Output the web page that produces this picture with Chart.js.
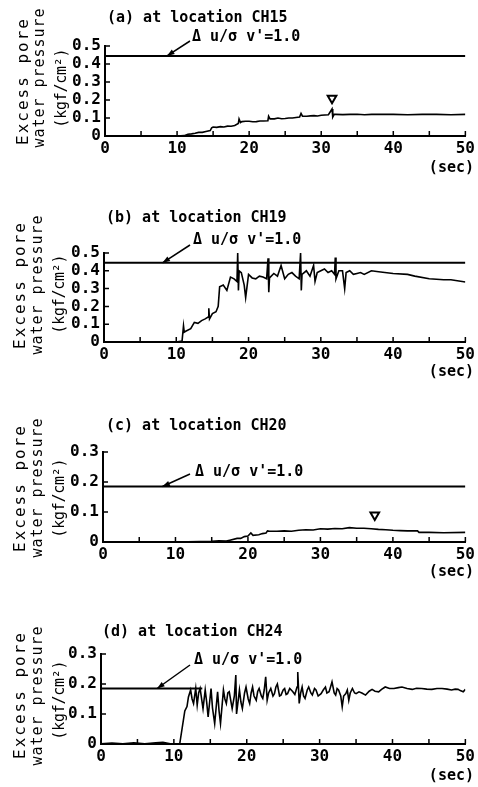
<!DOCTYPE html>
<html>
<head>
<meta charset="utf-8">
<script src="https://cdn.jsdelivr.net/npm/chart.js@4.4.1/dist/chart.umd.min.js"></script>
<style>
  body { margin: 0; background: #fff; }
  #wrap { position: relative; width: 478px; height: 787px; }
  canvas { position: absolute; left: 0; }
</style>
</head>
<body>
<div id="wrap">
  <canvas id="chartA" width="478" height="190" style="top:0px"></canvas>
  <canvas id="chartB" width="478" height="200" style="top:190px"></canvas>
  <canvas id="chartC" width="478" height="200" style="top:390px"></canvas>
  <canvas id="chartD" width="478" height="197" style="top:590px"></canvas>
</div>
<script>
// Excess pore water pressure records, [time (sec), pressure (kgf/cm2)]

const xTicks = [0, 10, 20, 30, 40, 50];
const xMinorTicks = [5, 10, 15, 20, 25, 30, 35, 40, 45, 50];
const yTicksHigh = [0, 0.1, 0.2, 0.3, 0.4, 0.5];
const yTicksLow = [0, 0.1, 0.2, 0.3];

const titles = ['(a) at location CH15', '(b) at location CH19', '(c) at location CH20', '(d) at location CH24'];
const refLabel = "\u0394 u/\u03c3 v'=1.0";
const yTitleLines = ['Excess pore', 'water pressure', '(kgf/cm\u00b2)'];

// Δu/σv' = 1.0 levels
const refA = [[0, 0.445], [50, 0.445]];
const refB = [[0, 0.445], [50, 0.445]];
const refC = [[0, 0.185], [50, 0.185]];
const refD = [[0, 0.185], [13.9, 0.185]];

// peak markers
const markA = [[31.5, 0.21]];
const markC = [[37.5, 0.09]];

const seriesA = [
  [0, 0], [5, 0], [10, 0], [11, 0.002], [11.5, 0.01], [12, 0.012], [12.5, 0.015], [13, 0.02],
  [13.5, 0.02], [14, 0.025], [14.6, 0.03], [14.8, 0.045], [15, 0.05], [15.5, 0.048], [16, 0.052],
  [16.5, 0.05], [17, 0.055], [17.5, 0.054], [18, 0.058], [18.5, 0.07], [18.6, 0.095], [18.8, 0.075],
  [19, 0.08], [19.5, 0.082], [20, 0.082], [20.5, 0.079], [21, 0.08], [21.5, 0.083], [22, 0.083],
  [22.6, 0.085], [22.7, 0.11], [22.9, 0.095], [23.5, 0.095], [24, 0.1], [24.5, 0.096], [25, 0.097],
  [25.5, 0.1], [26, 0.1], [26.5, 0.103], [27, 0.105], [27.2, 0.125], [27.4, 0.11], [28, 0.11],
  [28.5, 0.112], [29, 0.113], [29.5, 0.111], [30, 0.115], [31, 0.118], [31.5, 0.15], [31.6, 0.105],
  [31.8, 0.12], [32, 0.12], [33, 0.119], [34, 0.12], [35, 0.121], [36, 0.118], [37, 0.12],
  [38, 0.12], [39, 0.121], [40, 0.12], [42, 0.118], [44, 0.12], [46, 0.12], [48, 0.118], [50, 0.12]
];

const seriesB = [
  [0, 0], [5, 0], [10, 0], [10.8, 0.005], [11, 0.09], [11.1, 0.055], [11.3, 0.06], [12, 0.075],
  [12.5, 0.11], [13, 0.105], [13.5, 0.12], [14, 0.13], [14.4, 0.14], [14.5, 0.19], [14.6, 0.13],
  [15, 0.16], [15.5, 0.17], [15.8, 0.2], [16, 0.31], [16.5, 0.32], [17, 0.29], [17.5, 0.365],
  [18, 0.355], [18.4, 0.34], [18.5, 0.5], [18.6, 0.29], [18.7, 0.4], [19, 0.39], [19.4, 0.32],
  [19.6, 0.25], [20, 0.38], [20.5, 0.36], [21, 0.355], [21.5, 0.37], [22, 0.365], [22.5, 0.355],
  [22.7, 0.47], [22.8, 0.28], [22.9, 0.36], [23.5, 0.385], [24, 0.37], [24.5, 0.43], [25, 0.355],
  [25.5, 0.38], [26, 0.39], [26.5, 0.37], [27, 0.355], [27.2, 0.5], [27.3, 0.29], [27.4, 0.38],
  [28, 0.4], [28.5, 0.37], [29, 0.43], [29.2, 0.34], [29.5, 0.39], [30, 0.4], [30.5, 0.41],
  [31, 0.39], [31.5, 0.4], [31.9, 0.38], [32, 0.475], [32.1, 0.355], [32.5, 0.4], [33, 0.4],
  [33.3, 0.3], [33.5, 0.39], [34, 0.4], [34.5, 0.38], [35, 0.385], [35.5, 0.39], [36, 0.38],
  [37, 0.4], [38, 0.395], [40, 0.385], [42, 0.38], [43, 0.37], [45, 0.355], [47, 0.35],
  [48, 0.35], [50, 0.337]
];

const seriesC = [
  [0, 0], [5, 0], [10, 0], [15, 0.002], [16, 0.004], [17, 0.003], [17.5, 0.006], [18.5, 0.012],
  [19, 0.012], [19.5, 0.018], [20, 0.02], [20.4, 0.03], [20.7, 0.022], [21.5, 0.024], [22, 0.028],
  [22.5, 0.03], [22.7, 0.037], [23, 0.036], [24, 0.036], [25, 0.037], [26, 0.036], [27, 0.039],
  [28, 0.041], [29, 0.04], [30, 0.044], [31, 0.043], [32, 0.045], [33, 0.044], [34, 0.048],
  [35, 0.046], [36, 0.046], [37, 0.044], [38, 0.042], [39, 0.041], [40, 0.039], [41, 0.038],
  [42, 0.037], [43.4, 0.037], [43.6, 0.032], [45, 0.032], [47, 0.031], [50, 0.032]
];

const seriesD = [
  [0, 0.001], [1.5, 0.003], [3, 0.001], [4.5, 0.004], [6, 0.001], [7.5, 0.004], [8.5, 0.006],
  [9.5, 0.001], [10.8, 0], [11.5, 0.11], [11.8, 0.125], [12, 0.157], [12.3, 0.18], [12.5, 0.15],
  [12.7, 0.135], [13, 0.185], [13.2, 0.13], [13.4, 0.17], [13.6, 0.185], [14, 0.118], [14.3, 0.18],
  [14.5, 0.14], [14.7, 0.09], [15.1, 0.185], [15.3, 0.12], [15.6, 0.068], [16, 0.174], [16.2, 0.11],
  [16.4, 0.068], [16.8, 0.18], [17, 0.15], [17.2, 0.135], [17.4, 0.17], [17.6, 0.174], [18, 0.118],
  [18.3, 0.16], [18.5, 0.23], [18.6, 0.1], [19, 0.18], [19.2, 0.14], [19.4, 0.118], [19.7, 0.17],
  [19.9, 0.19], [20.2, 0.15], [20.4, 0.135], [20.6, 0.17], [20.8, 0.19], [21, 0.16], [21.3, 0.146],
  [21.5, 0.175], [21.7, 0.185], [22, 0.16], [22.2, 0.152], [22.4, 0.18], [22.6, 0.224], [22.8, 0.146],
  [23, 0.17], [23.3, 0.185], [23.6, 0.16], [23.8, 0.168], [24, 0.19], [24.2, 0.2], [24.5, 0.16],
  [24.7, 0.163], [25, 0.18], [25.2, 0.185], [25.4, 0.165], [25.6, 0.168], [25.9, 0.185],
  [26.3, 0.175], [26.6, 0.165], [26.9, 0.19], [27, 0.24], [27.2, 0.135], [27.4, 0.17], [27.6, 0.19],
  [27.8, 0.16], [28, 0.152], [28.3, 0.18], [28.5, 0.19], [28.8, 0.17], [29, 0.163], [29.3, 0.185],
  [29.5, 0.18], [29.8, 0.16], [30.2, 0.168], [30.5, 0.18], [30.8, 0.19], [31, 0.17], [31.3, 0.174],
  [31.5, 0.19], [31.7, 0.207], [32, 0.17], [32.2, 0.163], [32.4, 0.185], [32.6, 0.18], [32.9, 0.16],
  [33.1, 0.124], [33.3, 0.16], [33.6, 0.168], [33.8, 0.18], [34, 0.146], [34.2, 0.17], [34.5, 0.185],
  [34.8, 0.17], [35, 0.168], [35.4, 0.174], [35.8, 0.17], [36.3, 0.163], [36.8, 0.176], [37.2, 0.182],
  [37.6, 0.176], [38.1, 0.174], [38.5, 0.182], [39, 0.19], [39.6, 0.185], [40.2, 0.185],
  [40.8, 0.188], [41.3, 0.19], [42, 0.185], [42.7, 0.182], [43.3, 0.186], [44, 0.185], [44.7, 0.183],
  [45.4, 0.182], [46.1, 0.185], [46.8, 0.185], [47.5, 0.183], [48.1, 0.18], [48.6, 0.183], [49, 0.182],
  [49.3, 0.178], [49.7, 0.174], [50, 0.182]
];

const FONT = "'DejaVu Sans Mono', monospace";
Chart.defaults.font.family = FONT;
Chart.defaults.font.weight = 'bold';
Chart.defaults.color = '#000';

// draws title, axis label, inward ticks, Δu/σv' arrow and (sec)
const decorPlugin = {
  id: 'decor',
  afterDraw(chart, args, o) {
    const { ctx, chartArea: a, scales: { x, y } } = chart;
    ctx.save();
    ctx.strokeStyle = '#000';
    ctx.fillStyle = '#000';
    ctx.lineWidth = 1.5;

    // inward ticks
    ctx.beginPath();
    xMinorTicks.forEach(v => {
      const px = x.getPixelForValue(v);
      ctx.moveTo(px, a.bottom);
      ctx.lineTo(px, a.bottom - 5);
    });
    o.yTicks.forEach(v => {
      const py = y.getPixelForValue(v);
      ctx.moveTo(a.left, py);
      ctx.lineTo(a.left + 5, py);
    });
    ctx.stroke();

    ctx.textBaseline = 'middle';
    ctx.font = 'bold 15px ' + FONT;
    ctx.textAlign = 'left';
    ctx.fillText(o.title, o.titleX, o.titleY);
    ctx.fillText(refLabel, o.refX, o.refY);
    ctx.textAlign = 'right';
    ctx.fillText('(sec)', 474, o.secY);

    // arrow to the reference line
    const tx = x.getPixelForValue(o.tipT);
    const ty = y.getPixelForValue(o.refValue);
    const [fx, fy] = o.arrowFrom;
    ctx.lineWidth = 1.5;
    ctx.beginPath();
    ctx.moveTo(fx, fy);
    ctx.lineTo(tx, ty);
    ctx.stroke();
    const ang = Math.atan2(ty - fy, tx - fx);
    ctx.beginPath();
    ctx.moveTo(tx, ty);
    ctx.lineTo(tx - 8 * Math.cos(ang - 0.35), ty - 8 * Math.sin(ang - 0.35));
    ctx.lineTo(tx - 8 * Math.cos(ang + 0.35), ty - 8 * Math.sin(ang + 0.35));
    ctx.closePath();
    ctx.fill();

    // rotated y title, fixed advance per char
    ctx.textAlign = 'center';
    yTitleLines.forEach((line, i) => {
      const len = o.yTitleLen[i];
      const step = len / line.length;
      ctx.save();
      ctx.translate(o.yTitleX[i], o.yTitleY[i]);
      ctx.rotate(-Math.PI / 2);
      ctx.font = (i === 0 ? '16px ' : '15px ') + FONT;
      for (let k = 0; k < line.length; k++) {
        ctx.fillText(line[k], -len / 2 + step * (k + 0.5), 0);
      }
      ctx.restore();
    });
    ctx.restore();
  }
};

function toPoints(arr) {
  return arr.map(([t, p]) => ({ x: t, y: p }));
}

function makePanel(id, series, ref, marks, yTicks, box, deco) {
  const canvas = document.getElementById(id);
  const datasets = [
    { data: toPoints(series), borderColor: '#000', borderWidth: 1.6, pointRadius: 0, tension: 0 },
    { data: toPoints(ref), borderColor: '#000', borderWidth: 2, pointRadius: 0 }
  ];
  if (marks.length) {
    datasets.push({
      data: toPoints(marks), showLine: false, pointStyle: 'triangle', rotation: 180,
      pointRadius: 5, borderWidth: 2, borderColor: '#000', backgroundColor: '#fff'
    });
  }
  return new Chart(canvas, {
    type: 'line',
    data: { datasets: datasets },
    options: {
      responsive: false,
      animation: false,
      devicePixelRatio: 1,
      layout: { padding: { left: 0, top: box.top, right: 478 - box.right, bottom: 0 } },
      plugins: {
        legend: { display: false },
        tooltip: { enabled: false },
        decor: Object.assign({ yTicks: yTicks }, deco)
      },
      scales: {
        x: {
          type: 'linear', min: 0, max: 50,
          afterBuildTicks: s => { s.ticks = xTicks.map(v => ({ value: v })); },
          afterFit: s => { s.height = canvas.height - box.bottom; },
          ticks: { font: { size: 16 }, padding: 3, maxRotation: 0, autoSkip: false },
          grid: { display: false, drawTicks: false },
          border: { display: true, color: '#000', width: 2 }
        },
        y: {
          type: 'linear', min: 0, max: yTicks[yTicks.length - 1],
          afterBuildTicks: s => { s.ticks = yTicks.map(v => ({ value: v })); },
          afterFit: s => { s.width = box.left; },
          ticks: {
            font: { size: 16 }, padding: 4, autoSkip: false,
            callback: v => (v === 0 ? '0' : v.toFixed(1))
          },
          grid: { display: false, drawTicks: false },
          border: { display: true, color: '#000', width: 2 }
        }
      }
    },
    plugins: [decorPlugin]
  });
}

makePanel('chartA', seriesA, refA, markA, yTicksHigh,
  { left: 105, right: 469, top: 46, bottom: 136 },
  { title: titles[0], titleX: 107, titleY: 18, refX: 192, refY: 37, secY: 168,
    arrowFrom: [190, 41], tipT: 8.6, refValue: 0.445,
    yTitleX: [24, 40, 62], yTitleY: [82, 78, 88], yTitleLen: [128, 140, 79] });

makePanel('chartB', seriesB, refB, [], yTicksHigh,
  { left: 104, right: 468, top: 63, bottom: 152 },
  { title: titles[1], titleX: 106, titleY: 28, refX: 193, refY: 50, secY: 182,
    arrowFrom: [190, 55], tipT: 8.1, refValue: 0.445,
    yTitleX: [21, 38, 60], yTitleY: [96, 95, 104], yTitleLen: [128, 140, 79] });

makePanel('chartC', seriesC, refC, markC, yTicksLow,
  { left: 103, right: 467, top: 62, bottom: 152 },
  { title: titles[2], titleX: 106, titleY: 36, refX: 195, refY: 82, secY: 182,
    arrowFrom: [190, 84], tipT: 8.2, refValue: 0.185,
    yTitleX: [21, 38, 60], yTitleY: [99, 98, 108], yTitleLen: [128, 140, 79] });

makePanel('chartD', seriesD, refD, [], yTicksLow,
  { left: 101, right: 467, top: 64, bottom: 154 },
  { title: titles[3], titleX: 102, titleY: 42, refX: 194, refY: 70, secY: 186,
    arrowFrom: [190, 75], tipT: 7.7, refValue: 0.185,
    yTitleX: [21, 38, 60], yTitleY: [106, 106, 110], yTitleLen: [128, 140, 79] });
</script>
</body>
</html>
